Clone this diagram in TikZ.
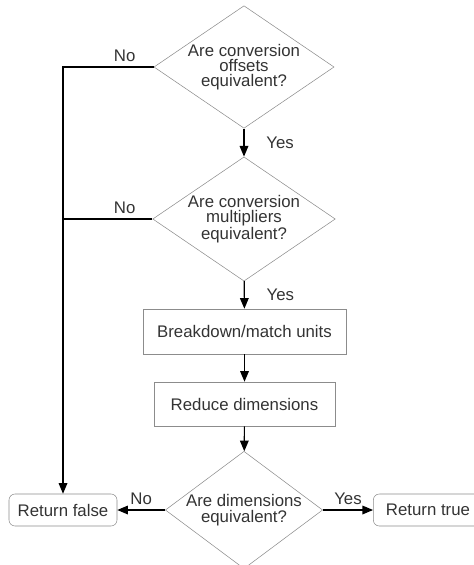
\documentclass[tikz,border=0pt]{standalone}
\usepackage{fontspec}
\setmainfont{Liberation Sans}
\usetikzlibrary{shapes.geometric,arrows.meta}

\tikzset{
    decision/.style={diamond, draw=black!45, inner sep=0pt, align=center, aspect=1.47},
    process/.style={rectangle, draw=black!45, align=center},
    endpoint/.style={rectangle, rounded corners=4.5pt, draw=black!45, minimum width=81pt, minimum height=24pt},
    flow/.style={-{Triangle[length=8pt,width=6.5pt]}, line width=0.9pt},
    branch/.style={line width=0.9pt}
}

\begin{document}
\begin{tikzpicture}[x=0.75pt,y=-0.75pt, font=\fontsize{12.6}{11.5}\selectfont, text=black!80]
        \useasboundingbox (0,0) rectangle (474,565);

        % Tests
        \node[decision, minimum width=133.5pt, minimum height=90.75pt] (offsets) at (244,67)
            {Are conversion\\offsets\\equivalent?};
        \node[decision, minimum width=133.5pt, minimum height=90.75pt] (multipliers) at (244,219)
            {Are conversion\\multipliers\\equivalent?};
        \node[process, minimum width=152.25pt, minimum height=33.75pt] (breakdown) at (244.5,331.5)
            {Breakdown/match units};
        \node[process, minimum width=135.75pt, minimum height=33pt] (reduce) at (244.5,404)
            {Reduce dimensions};
        \node[decision, aspect=1.34, minimum width=116.25pt, minimum height=87pt] (dimensions) at (244,510)
            {Are dimensions\\equivalent?};

        % Resultats
        \node[endpoint] (false) at (63,510) {Return false};
        \node[endpoint, minimum width=82pt] (true) at (428,510) {Return true};

        % Fleches
        \draw[flow] (offsets) -- node[midway, right=13pt] {Yes} (multipliers);
        \draw[flow] (multipliers) -- node[midway, right=13pt] {Yes} (breakdown);
        \draw[flow] (breakdown) -- (reduce);
        \draw[flow] (reduce) -- (dimensions);
        \draw[flow] (dimensions) -- node[midway, above] {No} (false);
        \draw[flow] (dimensions) -- node[midway, above] {Yes} (true);
        \draw[flow] (offsets.west) -| node[pos=0.16, above] {No} (false);
        \draw[branch] (multipliers.west) -- node[pos=0.31, above] {No} (multipliers.west -| false);
    \end{tikzpicture}
\end{document}
